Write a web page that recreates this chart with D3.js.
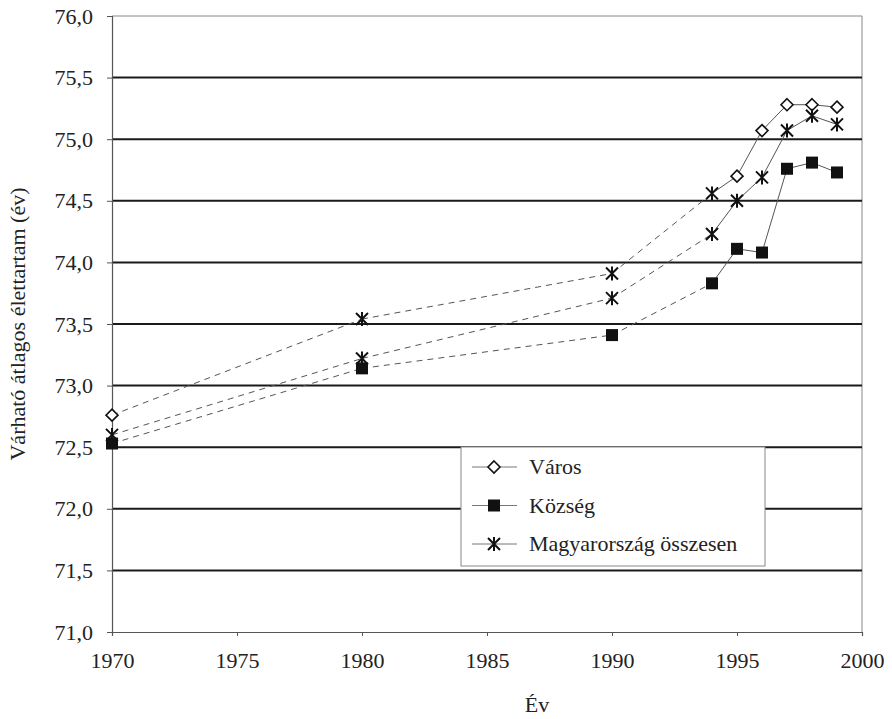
<!DOCTYPE html>
<html>
<head>
<meta charset="utf-8">
<script src="https://cdn.jsdelivr.net/npm/d3@7"></script>
<style>
  body { margin: 0; background: #fff; }
  svg text { font-family: "Liberation Serif", "Times New Roman", Times, serif; fill: #222; }
</style>
</head>
<body>
<svg id="chart" width="892" height="719"></svg>
<script>
// data
const years = [1970, 1980, 1990, 1994, 1995, 1996, 1997, 1998, 1999];
const varos = [72.76, 73.54, 73.91, 74.56, 74.70, 75.07, 75.28, 75.28, 75.26];
const kozseg = [72.53, 73.14, 73.41, 73.83, 74.11, 74.08, 74.76, 74.81, 74.73];
const osszesen = [72.60, 73.22, 73.71, 74.23, 74.50, 74.69, 75.07, 75.19, 75.12];
const yTicks = [71.0, 71.5, 72.0, 72.5, 73.0, 73.5, 74.0, 74.5, 75.0, 75.5, 76.0];
const xTicks = [1970, 1975, 1980, 1985, 1990, 1995, 2000];
const seriesNames = ['Város', 'Község', 'Magyarország összesen'];
// the source draws the first Város points with the star symbol
const varosMarkers = ['diamond', 'star', 'star', 'star', 'diamond', 'diamond', 'diamond', 'diamond', 'diamond'];
const dashedUntil = 1994;

const svg = d3.select('#chart');
const margin = { top: 16, right: 30, bottom: 87, left: 112 };
const width = 892 - margin.left - margin.right;
const height = 719 - margin.top - margin.bottom;
const g = svg.append('g').attr('transform', `translate(${margin.left},${margin.top})`);

const x = d3.scaleLinear().domain([1970, 2000]).range([0, width]);
const y = d3.scaleLinear().domain([71, 76]).range([height, 0]);
const fmt = v => d3.format('.1f')(v).replace('.', ',');
const serif = '"Liberation Serif", "Times New Roman", Times, serif';

// plot frame: thin grey top and right
g.append('line').attr('x1', 0).attr('x2', width).attr('y1', 0).attr('y2', 0)
    .attr('stroke', '#888').attr('stroke-width', 1);
g.append('line').attr('x1', width).attr('x2', width).attr('y1', 0).attr('y2', height)
    .attr('stroke', '#888').attr('stroke-width', 1);

// heavy horizontal grid lines
g.selectAll('.grid').data(yTicks.filter(v => v > 71 && v < 76)).join('line')
    .attr('class', 'grid')
    .attr('x1', 0).attr('x2', width)
    .attr('y1', d => y(d)).attr('y2', d => y(d))
    .attr('stroke', '#1a1a1a').attr('stroke-width', 2);

// axes
const yAxis = g.append('g')
    .call(d3.axisLeft(y).tickValues(yTicks).tickFormat(fmt).tickSize(5).tickPadding(14));
const xAxis = g.append('g').attr('transform', `translate(0,${height})`)
    .call(d3.axisBottom(x).tickValues(xTicks).tickFormat(d3.format('d')).tickSize(4).tickPadding(16));
[yAxis, xAxis].forEach(a => {
    a.attr('font-family', serif).attr('font-size', 22);
    a.select('.domain').attr('stroke', '#555').attr('stroke-width', 1.2);
    a.selectAll('.tick line').attr('stroke', '#555');
    a.selectAll('text').attr('fill', '#222');
});

svg.append('text')
    .attr('x', margin.left + x(1987)).attr('y', 712)
    .attr('text-anchor', 'middle').style('font-size', '22px').text('Év');
svg.append('text')
    .attr('transform', `translate(25,${margin.top + 308}) rotate(-90)`)
    .attr('text-anchor', 'middle').style('font-size', '22px')
    .text('Várható átlagos élettartam (év)');

// markers
function drawMarker(sel, type, cx, cy) {
    if (type === 'diamond') {
        sel.append('path')
            .attr('d', `M${cx},${cy - 6}L${cx + 6},${cy}L${cx},${cy + 6}L${cx - 6},${cy}Z`)
            .attr('fill', '#fff').attr('stroke', '#111').attr('stroke-width', 1.6);
    } else if (type === 'square') {
        sel.append('rect').attr('x', cx - 6).attr('y', cy - 6).attr('width', 12).attr('height', 12)
            .attr('fill', '#111');
    } else {
        sel.append('path')
            .attr('d', `M${cx - 6},${cy - 6}L${cx + 6},${cy + 6}M${cx + 6},${cy - 6}L${cx - 6},${cy + 6}M${cx},${cy - 7}L${cx},${cy + 7}`)
            .attr('fill', 'none').attr('stroke', '#111').attr('stroke-width', 2);
    }
}

const series = [
    { name: seriesNames[0], values: varos, markers: varosMarkers, legendMarker: 'diamond' },
    { name: seriesNames[1], values: kozseg, markers: years.map(() => 'square'), legendMarker: 'square' },
    { name: seriesNames[2], values: osszesen, markers: years.map(() => 'star'), legendMarker: 'star' }
];

const line = d3.line().x(d => x(d.year)).y(d => y(d.value));

series.forEach(s => {
    const pts = years.map((yr, i) => ({ year: yr, value: s.values[i] }));
    for (let i = 1; i < pts.length; i++) {
        g.append('path')
            .datum([pts[i - 1], pts[i]])
            .attr('d', line)
            .attr('fill', 'none')
            .attr('stroke', '#555')
            .attr('stroke-width', 1)
            .attr('stroke-dasharray', pts[i].year <= dashedUntil ? '6,5' : null);
    }
});
series.forEach(s => {
    const mg = g.append('g');
    years.forEach((yr, i) => drawMarker(mg, s.markers[i], x(yr), y(s.values[i])));
});

// legend
const lg = svg.append('g').attr('transform', 'translate(461,447)');
lg.append('rect').attr('width', 304).attr('height', 119)
    .attr('fill', '#fff').attr('stroke', '#888').attr('stroke-width', 1);
series.forEach((s, i) => {
    const ly = 20 + i * 38.5;
    lg.append('line').attr('x1', 11).attr('x2', 56).attr('y1', ly).attr('y2', ly)
        .attr('stroke', '#777').attr('stroke-width', 1);
    drawMarker(lg, s.legendMarker, 33, ly);
    lg.append('text').attr('x', 68).attr('y', ly + 7).style('font-size', '22px').text(s.name);
});
</script>
</body>
</html>
